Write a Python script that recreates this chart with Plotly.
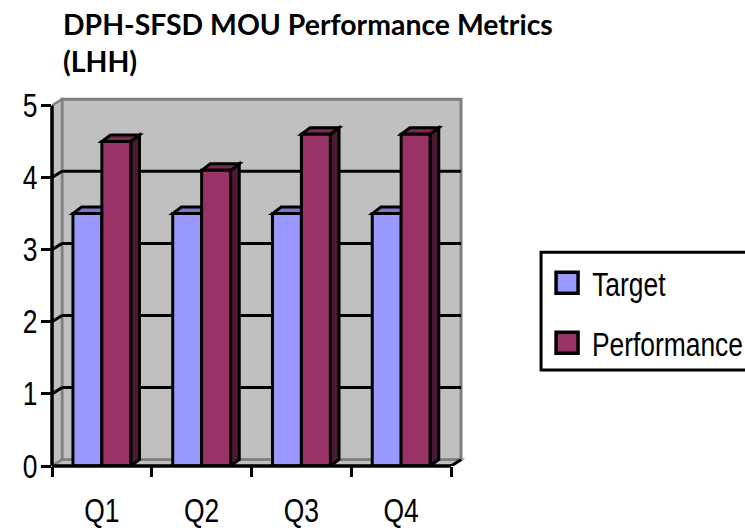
import plotly.graph_objects as go

categories = ["Q1", "Q2", "Q3", "Q4"]
target = [3.5, 3.5, 3.5, 3.5]
performance = [4.5, 4.1, 4.6, 4.6]
y_ticks = [0, 1, 2, 3, 4, 5]

W, H = 745, 528
SANS = "Liberation Sans, Arial, sans-serif"
BLUE, BLUE_TOP, BLUE_SIDE = "#9999FF", "#7A7ACC", "#4D4D80"
RED, RED_TOP, RED_SIDE = "#993366", "#7A2952", "#4D1A33"
WALL, EDGE, INK = "#C0C0C0", "#808080", "#000000"

# plot geometry
LEFT, BASE = 52, 466
PX_X, PX_Y = 99.75, 72.2
XMIN, XMAX, YMAX = -0.5, 3.7, 5.2
WALL_DX, WALL_DY = 0.1, 0.087      # wall depth in axis units
BAR_DX, BAR_DY = 0.087, 0.09       # bar depth in axis units
BAR_W = 0.29
PLOT_W = PX_X * (XMAX - XMIN)
PLOT_H = PX_Y * YMAX


def px(x):
    return (x - LEFT) / PLOT_W


def py(y):
    return (BASE - y) / PLOT_H


def poly(points, fill, line=INK, width=3, layer="below"):
    d = "M" + "L".join(f"{x},{y}" for x, y in points) + "Z"
    return dict(type="path", path=d, xref="x", yref="y", fillcolor=fill,
                line=dict(color=line, width=width), layer=layer)


def seg(x0, y0, x1, y1, color, width, layer="below", **kw):
    return dict(type="line", x0=x0, y0=y0, x1=x1, y1=y1, xref=kw.get("xref", "x"),
                yref=kw.get("yref", "y"), line=dict(color=color, width=width), layer=layer)


x_lo, x_hi = -0.5, len(categories) - 0.5
top = max(y_ticks)
shapes = [
    poly([(x_lo + WALL_DX, WALL_DY), (x_hi + WALL_DX, WALL_DY), (x_hi + WALL_DX, top + WALL_DY),
          (x_lo + WALL_DX, top + WALL_DY)], WALL, EDGE, 3),
    poly([(x_lo, 0), (x_lo + WALL_DX, WALL_DY), (x_lo + WALL_DX, top + WALL_DY), (x_lo, top)], WALL, EDGE, 2.5),
    poly([(x_lo, 0), (x_lo + WALL_DX, WALL_DY), (x_hi + WALL_DX, WALL_DY), (x_hi, 0)], WALL, EDGE, 2.5),
]
for v in y_ticks[1:-1]:
    shapes.append(seg(x_lo + WALL_DX, v + WALL_DY, x_hi + WALL_DX, v + WALL_DY, INK, 3))
    shapes.append(seg(x_lo, v, x_lo + WALL_DX, v + WALL_DY, INK, 3))

# depth faces of each bar, placed from the data values
for series, sign, face_top, face_side in ((target, -1, BLUE_TOP, BLUE_SIDE), (performance, 0, RED_TOP, RED_SIDE)):
    for i, v in enumerate(series):
        a = i + sign * BAR_W
        b = a + BAR_W
        shapes.append(poly([(b, 0), (b + BAR_DX, BAR_DY), (b + BAR_DX, v + BAR_DY), (b, v)], face_side))
        shapes.append(poly([(a, v), (a + BAR_DX, v + BAR_DY), (b + BAR_DX, v + BAR_DY), (b, v)], face_top))

# axis lines
shapes.append(seg(x_lo, 0, x_hi, 0, INK, 3.5, "above", yref="paper"))
shapes.append(seg(x_hi, 0, x_hi + WALL_DX, WALL_DY, INK, 3, "above"))
shapes.append(dict(type="line", xref="paper", yref="y", x0=0, x1=0, y0=0, y1=top,
                   line=dict(color=INK, width=3.5), layer="above"))

# legend box
shapes.append(dict(type="rect", xref="paper", yref="paper", x0=px(541), x1=px(760), y0=py(252), y1=py(370),
                   line=dict(color=INK, width=3), fillcolor="white", layer="above"))
for y0, color in ((272, BLUE), (332, RED)):
    shapes.append(dict(type="rect", xref="paper", yref="paper", x0=px(556), x1=px(578), y0=py(y0), y1=py(y0 + 21),
                       line=dict(color=INK, width=3.5), fillcolor=color, layer="above"))

annotations = [
    dict(text=name, xref="paper", yref="paper", x=px(xc), y=py(yc), xanchor="center", yanchor="middle",
         showarrow=False, font=dict(family=SANS, size=33, color=INK))
    for name, xc, yc in (("Target", 629, 284), ("Performance", 667, 344))
]

fig = go.Figure()
fig.add_bar(name="Target", x=categories, y=target, marker=dict(color=BLUE, line=dict(color=INK, width=3)),
            showlegend=False)
fig.add_bar(name="Performance", x=categories, y=performance, marker=dict(color=RED, line=dict(color=INK, width=3)),
            showlegend=False)

fig.update_layout(
    width=W, height=H, autosize=False, barmode="group", bargap=1 - 2 * BAR_W, bargroupgap=0,
    paper_bgcolor="white", plot_bgcolor="white", showlegend=False,
    margin=dict(l=LEFT, r=W - LEFT - PLOT_W, t=H - (H - BASE) - PLOT_H, b=H - BASE, pad=0, autoexpand=False),
    title=dict(text="DPH-SFSD MOU Performance Metrics<br>(LHH)", xref="container", yref="container", x=63 / W,
               xanchor="left", y=1 - 35 / H, yanchor="top",
               font=dict(family="Lato, Open Sans, sans-serif", size=28.4, color=INK, weight="bold")),
    shapes=shapes, annotations=annotations, hovermode=False,
    xaxis=dict(type="category", categoryorder="array", categoryarray=categories, range=[XMIN, XMAX],
               tickson="boundaries", ticks="outside", ticklen=10, tickwidth=3, tickcolor=INK,
               showgrid=False, zeroline=False, showline=False, ticklabelstandoff=22,
               tickfont=dict(family=SANS, size=33, color=INK)),
    yaxis=dict(range=[0, YMAX], tickmode="array", tickvals=y_ticks, ticktext=[str(t) for t in y_ticks],
               ticks="outside", ticklen=10, tickwidth=3, tickcolor=INK, showgrid=False, zeroline=False,
               showline=False, ticklabelstandoff=-3, tickfont=dict(family=SANS, size=33, color=INK)),
)

# The reference's label face is a narrow sans; none is installed, so the labels are condensed horizontally.
NARROW_JS = """
document.body.style.margin='0';
document.querySelectorAll('.xtick text, .ytick text, .annotation-text').forEach(function(t){
  var x=t.getAttribute('x')||0, y=t.getAttribute('y')||0, old=t.getAttribute('transform')||'';
  t.setAttribute('transform', old+' translate('+x+','+y+') scale(0.8,1) translate('+(-x)+','+(-y)+')');
});
"""
fig.write_html("out.html", post_script=NARROW_JS, config={"displayModeBar": False})
